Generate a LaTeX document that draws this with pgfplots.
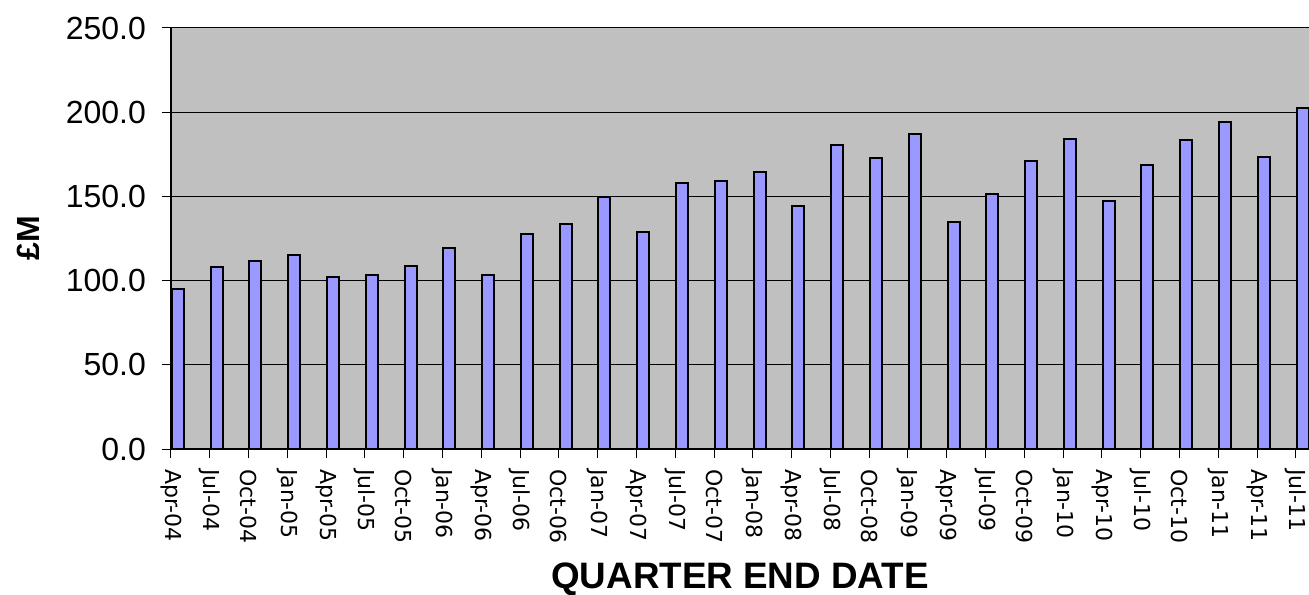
\documentclass[border=0pt]{standalone}
\usepackage{fontspec}
\setmainfont{Liberation Sans}
\newfontfamily\tickfont{DejaVu Sans}
\usepackage{pgfplots}
\usepackage{pgfplotstable}
\pgfplotsset{compat=1.18}
\definecolor{plotbg}{RGB}{192,192,192}
\definecolor{barfill}{RGB}{153,153,255}

% quarterly totals, £M (Apr-04 .. Jul-11)
\pgfplotstableread{
idx value
0  95.0
1  107.9
2  111.6
3  115.2
4  102.3
5  103.1
6  108.9
7  119.5
8  103.3
9  127.7
10 133.6
11 149.5
12 128.7
13 157.8
14 159.1
15 164.5
16 144.3
17 180.3
18 173.0
19 187.3
20 135.0
21 151.6
22 171.2
23 184.3
24 147.5
25 168.8
26 183.3
27 194.2
28 173.2
29 202.3
}\quarterly

\begin{document}
\begin{tikzpicture}
\begin{axis}[
  at={(0,0)}, anchor=south west,
  scale only axis,
  width=569pt, height=210.5pt,
  xmin=0, xmax=29.34,
  ymin=0, ymax=250,
  enlargelimits=false,
  axis lines*=left,
  axis line style={line width=0.6pt},
  axis background/.style={fill=plotbg},
  ybar,
  bar width=6.0pt,
  bar shift=3.4pt,
  xtick={0,...,29},
  xticklabels={Apr-04,Jul-04,Oct-04,Jan-05,Apr-05,Jul-05,Oct-05,Jan-06,Apr-06,Jul-06,Oct-06,Jan-07,Apr-07,Jul-07,Oct-07,Jan-08,Apr-08,Jul-08,Oct-08,Jan-09,Apr-09,Jul-09,Oct-09,Jan-10,Apr-10,Jul-10,Oct-10,Jan-11,Apr-11,Jul-11},
  xticklabel style={font=\tickfont\fontsize{11}{13}\selectfont, rotate=-90, anchor=west, xshift=2pt},
  ytick={0,50,...,250},
  yticklabel style={font=\fontsize{16}{19}\selectfont, xshift=-4.5pt,
    /pgf/number format/.cd, fixed, fixed zerofill, precision=1},
  /pgf/number format/assume math mode=true,
  tick align=outside,
  major tick length=4.5pt,
  tick style={black, line width=0.5pt},
  ymajorgrids=true,
  grid style={black, line width=0.5pt},
  xlabel={QUARTER END DATE},
  xlabel style={font=\bfseries\fontsize{18.4}{22}\selectfont, at={(axis description cs:0.5,0)}, anchor=base, yshift=-69.5pt},
  ylabel={£M},
  ylabel style={font=\bfseries\fontsize{16}{19}\selectfont, at={(axis description cs:-0.1257,0.5)}, anchor=center},
]
\addplot[fill=barfill, draw=black, line width=1pt] table[x=idx, y=value] {\quarterly};
\end{axis}
\pgfresetboundingbox
\path[use as bounding box] (-85.5pt,-72.5pt) rectangle (569pt,224.5pt);
\end{tikzpicture}
\end{document}
